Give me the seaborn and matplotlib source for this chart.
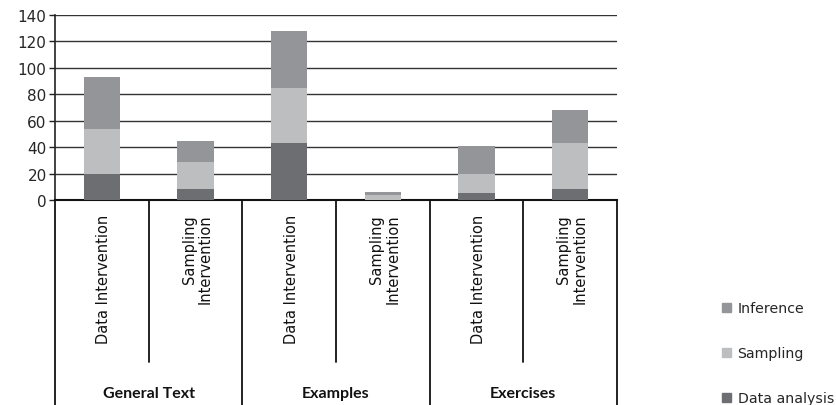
import matplotlib
matplotlib.use("Agg")
import matplotlib.pyplot as plt
import matplotlib.transforms as mtransforms
from matplotlib.patches import Patch
import pandas as pd
import seaborn as sns

groups = ["General Text", "Examples", "Exercises"]
subgroups = ["Data Intervention", "Sampling\nIntervention"]
data_analysis = [20, 8, 43, 0, 5, 8]
sampling = [34, 21, 42, 4, 15, 35]
inference = [39, 16, 43, 2, 21, 25]

col_da = "#6d6e71"
col_s = "#bdbebf"
col_i = "#939598"

sns.set_theme(style="white")
plt.rcParams["font.family"] = ["DejaVu Sans"]

slots = [f"{g}|{s}" for g in groups for s in subgroups]
df = pd.DataFrame({"slot": slots,
                   "da": data_analysis,
                   "s": sampling,
                   "i": inference})
df["top_s"] = df["da"] + df["s"]
df["top_i"] = df["top_s"] + df["i"]

fig = plt.figure(figsize=(8.36, 4.06), dpi=100)
ax = fig.add_axes([55 / 836, 1 - 201 / 406, (617 - 55) / 836, 185 / 406])

# layered bars: total first, then the partial sums over it
for col, c in [("top_i", col_i), ("top_s", col_s), ("da", col_da)]:
    sns.barplot(data=df, x="slot", y=col, color=c, width=0.385,
                saturation=1, linewidth=0, ax=ax, zorder=3)

ax.set_xlim(-0.5, 5.5)
ax.set_ylim(0, 140)
ax.set_yticks(range(0, 141, 20))
ax.tick_params(axis="y", labelsize=11, length=4, width=1, color="#222222",
               left=True, pad=2)
ax.set_xticks([])
ax.set_xlabel("")
ax.set_ylabel("")
ax.grid(axis="y", color="#333333", linewidth=1, zorder=0)
for sp in ["top", "right"]:
    ax.spines[sp].set_visible(False)
ax.spines["left"].set_color("#222222")
ax.spines["bottom"].set_color("#111111")
ax.spines["left"].set_linewidth(1.2)
ax.spines["bottom"].set_linewidth(1.5)

trans = mtransforms.blended_transform_factory(ax.transData, ax.transAxes)
for k in range(7):
    xb = k - 0.5
    y_end = -1.11 if k % 2 == 0 else -0.876
    ax.plot([xb, xb], [0, y_end], transform=trans, color="#111111",
            linewidth=1.3, clip_on=False)

for k, s in enumerate(slots):
    label = s.split("|")[1]
    ax.text(k + 0.02, -0.075, label, transform=trans, rotation=90,
            ha="center", va="top", multialignment="right", fontsize=10.5,
            color="#111111", linespacing=1.12)

for g, name in enumerate(groups):
    ax.text(2 * g + 0.5, -1.045, name, transform=trans, ha="center",
            va="center", fontsize=11.5, fontweight="bold", family="Lato",
            color="#111111")

handles = [Patch(color=col_i, label="Inference"),
           Patch(color=col_s, label="Sampling"),
           Patch(color=col_da, label="Data analysis")]
fig.legend(handles=handles, loc="upper left",
           bbox_to_anchor=(722 / 836, 1 - 302 / 406), frameon=False,
           handlelength=0.6, handleheight=0.6, handletextpad=0.5,
           labelspacing=2.2, borderpad=0, borderaxespad=0,
           prop={"family": "DejaVu Sans", "size": 10.2})

fig.savefig("out.png", dpi=100)
